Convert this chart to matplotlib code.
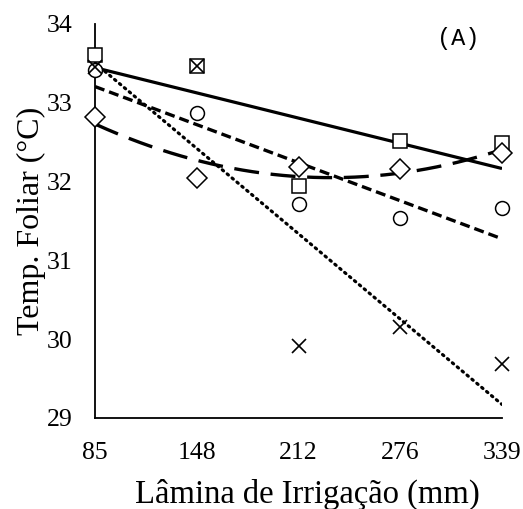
import numpy as np
import matplotlib
matplotlib.use("Agg")
import matplotlib.pyplot as plt

# irrigation depths (mm) shown as equally spaced categories
laminas = ["85", "148", "212", "276", "339"]

# leaf temperature (°C) per treatment
temp_sq = [33.61, 33.47, 31.95, 32.51, 32.49]
temp_x = [33.45, 33.47, 29.92, 30.16, 29.69]
temp_circ = [33.41, 32.87, 31.72, 31.54, 31.66]
temp_diam = [32.82, 32.05, 32.19, 32.16, 32.36]

yticks = [29, 30, 31, 32, 33, 34]

plt.rcParams["font.family"] = ["Liberation Serif", "DejaVu Serif"]

fig = plt.figure(figsize=(5.23, 5.09), dpi=100)
ax = fig.add_axes([95 / 523, 1 - 418 / 509, 407 / 523, 394 / 509])

x = np.arange(len(laminas))
xf = np.linspace(0, len(laminas) - 1, 200)


def trend(vals, deg):
    return np.polyval(np.polyfit(x, vals, deg), xf)


# trendlines (Excel style, fitted over category index)
ax.plot(xf, trend(temp_sq, 1), color="black", lw=2.3, ls="-", solid_capstyle="butt")
ax.plot(xf, trend(temp_circ, 1), color="black", lw=2.4, ls=(0, (3.0, 1.5)))
ax.plot(xf, trend(temp_x, 1), color="black", lw=2.3, ls=(0, (0.5, 1.5)),
        dash_capstyle="round")
ax.plot(xf, trend(temp_diam, 2), color="black", lw=2.4, ls=(0, (7.5, 3.5)))

mk = dict(ls="none", mfc="white", mec="black", mew=1.1, clip_on=False, zorder=5)
ax.plot(x, temp_sq, marker="s", ms=10, **mk)
ax.plot(x, temp_circ, marker="o", ms=10, **mk)
ax.plot(x, temp_diam, marker="D", ms=10, **mk)
ax.plot(x, temp_x, marker="x", ms=10, ls="none", color="black", mew=1.2,
        clip_on=False, zorder=6)

ax.set_xlim(0, len(laminas) - 1)
ax.set_ylim(29, 34)
ax.set_xticks(x)
ax.set_xticklabels(laminas)
ax.set_yticks(yticks)
ax.tick_params(length=0, labelsize=18.5)
ax.tick_params(axis="y", pad=16)
ax.tick_params(axis="x", pad=17)

for s in ["top", "right"]:
    ax.spines[s].set_visible(False)
for s in ["left", "bottom"]:
    ax.spines[s].set_linewidth(1.3)

ax.set_xlabel("Lâmina de Irrigação (mm)", fontsize=23.5, labelpad=11)
ax.xaxis.label.set_x(0.521)
ax.set_ylabel("Temp. Foliar (°C)", fontsize=23, labelpad=1)

ax.text(0.892, 0.962, "(A)", transform=ax.transAxes, ha="center", va="center",
        fontsize=17, family=["Liberation Mono", "DejaVu Sans Mono"])

fig.savefig("out.png", dpi=100)
